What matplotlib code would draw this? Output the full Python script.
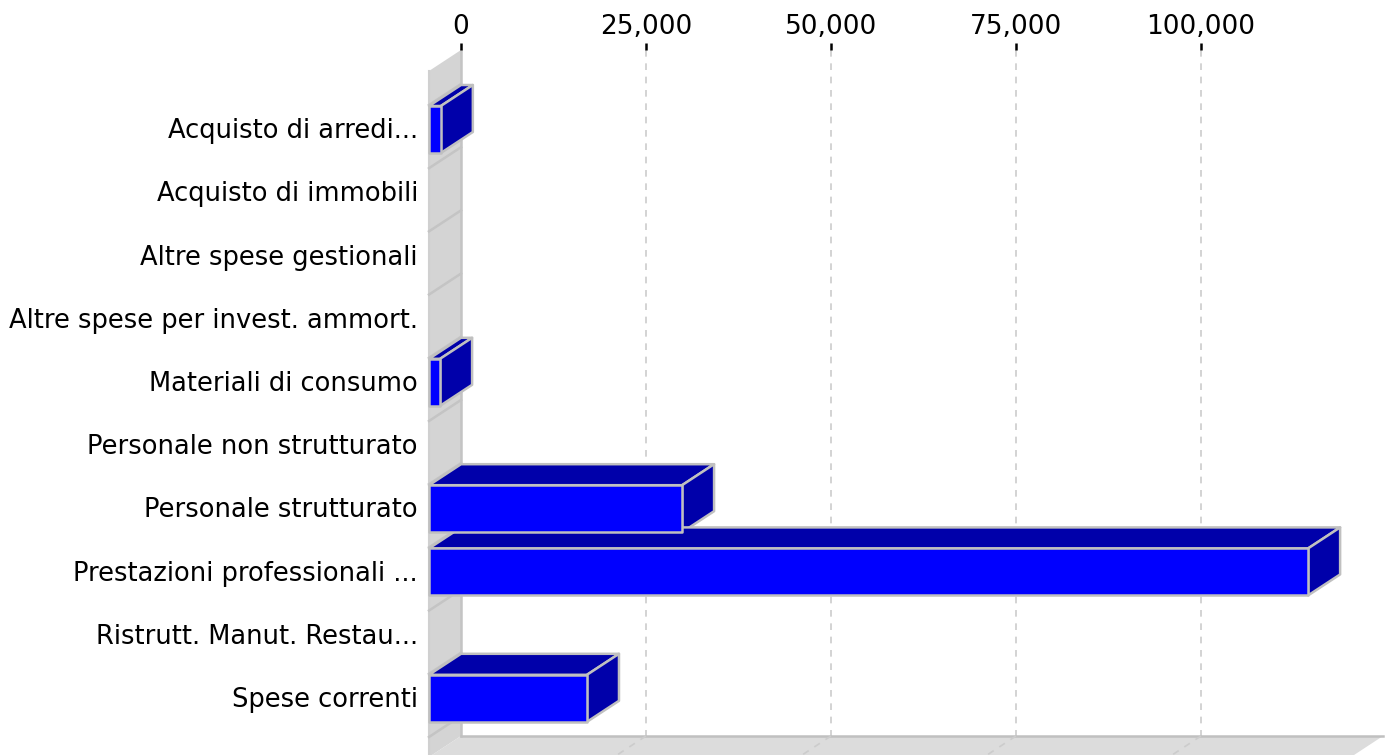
import matplotlib
matplotlib.use("Agg")
import matplotlib.pyplot as plt
from matplotlib.patches import Polygon
from matplotlib.ticker import FuncFormatter
from matplotlib.transforms import ScaledTranslation

categories = ["Acquisto di arredi...", "Acquisto di immobili", "Altre spese gestionali",
              "Altre spese per invest. ammort.", "Materiali di consumo", "Personale non strutturato",
              "Personale strutturato", "Prestazioni professionali ...", "Ristrutt. Manut. Restau...",
              "Spese correnti"]
values = [1600, 0, 0, 0, 1500, 0, 34200, 118800, 0, 21350]
x_ticks = [0, 25000, 50000, 75000, 100000]

W, H = 1393, 755
PX_PER_UNIT = 185 / 25000
ROW_PX = 63.2
DX = 32 / PX_PER_UNIT     # depth of the 3d effect in data units
DY = 21 / ROW_PX
BAR_H = 47 / ROW_PX
XMAX = 922 / PX_PER_UNIT

EDGE = "#c0c0c0"
FRONT = "#0000ff"
DARK = "#0000aa"
WALL = "#d4d4d4"
FLOOR = "#dcdcdc"
GRID = "#cccccc"

plt.rcParams["font.family"] = "DejaVu Sans"

fig = plt.figure(figsize=(W / 100, H / 100), dpi=100)
# back plane of the chart: x 461..1383, y 50..736 px
ax = fig.add_axes([461 / W, 1 - 736 / H, 922 / W, 686 / H])
ax.set_xlim(0, XMAX)
ymin = (50 - 108.5) / ROW_PX
ymax = (736 - 108.5) / ROW_PX
ax.set_ylim(ymax, ymin)
for s in ax.spines.values():
    s.set_visible(False)


def poly(pts, fc, z, ec=EDGE, lw=1.8):
    ax.add_patch(Polygon(pts, closed=True, facecolor=fc, edgecolor=ec, linewidth=lw,
                         joinstyle="round", clip_on=False, zorder=z))


# side wall and floor
poly([(0, ymin), (-DX, ymin + DY), (-DX, ymax + DY), (0, ymax)], WALL, 1, ec="none", lw=0)
ax.plot([0, 0], [ymin, ymax], color="#c4c4c4", lw=1.8, clip_on=False, zorder=1.5)
ax.plot([-DX, -DX], [ymin + DY, ymax + DY], color="#d0d0d0", lw=1.5, clip_on=False, zorder=1.5)
poly([(0, ymax), (XMAX, ymax), (XMAX - DX, ymax + DY), (-DX, ymax + DY)], FLOOR, 1, ec="none", lw=0)
ax.plot([0, XMAX], [ymax, ymax], color=EDGE, lw=1.8, clip_on=False, zorder=1.5)

# row separators on the wall
for k in range(len(categories) + 1):
    sy = k - 0.388
    ax.plot([0, -DX], [sy, sy + DY], color="#c4c4c4", lw=1.8, clip_on=False, zorder=1.5)

# grid, carried on to the floor
for t in x_ticks[1:]:
    ax.plot([t, t], [ymin, ymax], color=GRID, lw=1.2, ls=(0, (4, 4)), zorder=1.2)
    ax.plot([t, t - DX], [ymax, ymax + DY], color=GRID, lw=1.2, ls=(0, (4, 4)), clip_on=False, zorder=1.6)

# bars
for i, v in enumerate(values):
    if v == 0:
        continue
    top = i - BAR_H / 2
    bot = i + BAR_H / 2
    poly([(-DX, top + DY), (0, top), (v, top), (v - DX, top + DY)], DARK, 3)
    poly([(v - DX, top + DY), (v, top), (v, bot), (v - DX, bot + DY)], DARK, 3)
    poly([(-DX, top + DY), (v - DX, top + DY), (v - DX, bot + DY), (-DX, bot + DY)], FRONT, 4)

ax.xaxis.tick_top()
ax.set_xticks(x_ticks)
ax.xaxis.set_major_formatter(FuncFormatter(lambda x, pos: f"{int(x):,}"))
ax.tick_params(axis="x", length=5, width=1.8, color="black", labelsize=19, pad=2)
ax.set_yticks([i + DY for i in range(len(categories))])
ax.set_yticklabels(categories)
ax.tick_params(axis="y", length=0, labelsize=18.5, pad=31)
# nudge the row labels up a little
for lab in ax.get_yticklabels():
    lab.set_transform(lab.get_transform() + ScaledTranslation(0, 1 / 72, fig.dpi_scale_trans))

fig.savefig("out.png", dpi=100)
